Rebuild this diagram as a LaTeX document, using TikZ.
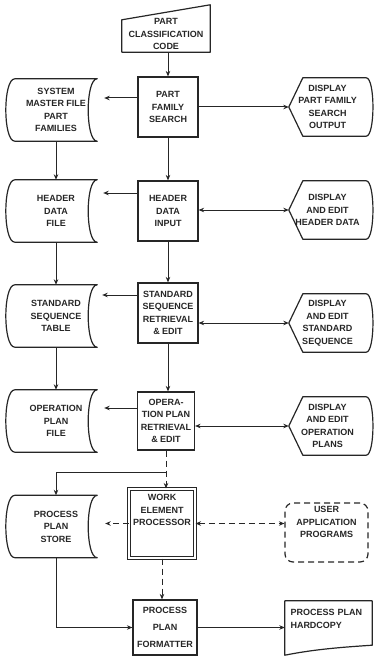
\documentclass[tikz,border=0pt]{standalone}
\usepackage{fontspec}
\setmainfont{Liberation Sans}
\usetikzlibrary{arrows.meta, calc}
\tikzset{
  txt/.style={font=\bfseries\fontsize{9}{12.5}\selectfont, align=center,
              inner sep=0pt, text=black!85},
  proc/.style={txt, draw=black!85, line width=1.2pt, minimum width=60pt,
               minimum height=60pt},
  filebox/.style={txt, minimum width=82pt, minimum height=62pt},
  dispbox/.style={txt, minimum width=77pt, minimum height=58pt},
  wepbox/.style={txt, draw=black!85, line width=1pt, double, double distance=2.5pt,
                 minimum width=66pt, minimum height=69pt},
  userbox/.style={txt, draw=black!85, line width=1.2pt, dsh, rounded corners=8pt,
                  minimum width=83pt, minimum height=59pt},
  docbox/.style={txt, align=left, text width=76pt, minimum width=87pt,
                 minimum height=54pt},
  outl/.style={draw=black!85, line width=1.2pt, line join=round},
  arc/.style={draw=black!85, line width=1pt},
  dsh/.style={dash pattern=on 6pt off 4pt}
}
\begin{document}
\begin{tikzpicture}[x=1pt, y=1pt, >={Stealth[length=5.5pt,width=4.5pt]}]
  \useasboundingbox (0,0) rectangle (374,-658);
  % input
  \node[txt, minimum width=88pt, minimum height=36pt] (code) at (166,-34)
    {PART\\CLASSIFICATION\\CODE};
  \draw[outl] (code.south west) -- (code.south east) -- ($(code.north east)+(0,11)$)
    -- ($(code.north west)+(0,-4)$) -- cycle;
  % main column
  \node[proc] (search) at (168,-107) {PART\\FAMILY\\SEARCH};
  \node[proc] (hinput) at (168,-211) {HEADER\\DATA\\INPUT};
  \node[proc] (sretr) at (168,-313) {STANDARD\\SEQUENCE\\RETRIEVAL\\\& EDIT};
  \node[proc, minimum width=57pt, minimum height=58pt] (oretr) at (166,-421)
    {OPERA-\\TION PLAN\\RETRIEVAL\\\& EDIT};
  \node[wepbox] (wep) at (162,-523.5) {WORK\\ELEMENT\\PROCESSOR\\[14pt]\mbox{}};
  \node[proc, minimum width=64pt, minimum height=55pt,
        font=\bfseries\fontsize{9}{17}\selectfont] (fmt) at (165,-627.5)
    {PROCESS\\PLAN\\FORMATTER};
  % files
  \node[filebox] (mfile) at (56,-110) {SYSTEM\\MASTER FILE\\PART\\FAMILIES};
  \node[filebox] (hfile) at (56,-211) {HEADER\\DATA\\FILE};
  \node[filebox] (sfile) at (56,-316) {STANDARD\\SEQUENCE\\TABLE};
  \node[filebox] (ofile) at (56,-421) {OPERATION\\PLAN\\FILE};
  \node[filebox] (pstore) at (56,-526.5) {PROCESS\\PLAN\\STORE};
  % displays
  \node[dispbox] (dsearch) at (327.5,-107) {DISPLAY\\PART FAMILY\\SEARCH\\OUTPUT};
  \node[dispbox] (dheader) at (327.5,-210) {DISPLAY\\AND EDIT\\HEADER DATA};
  \node[dispbox] (dstd) at (327.5,-323) {DISPLAY\\AND EDIT\\STANDARD\\SEQUENCE};
  \node[dispbox] (dop) at (327.5,-426) {DISPLAY\\AND EDIT\\OPERATION\\PLANS};
  \node[userbox] (user) at (326.5,-532.5) {USER\\APPLICATION\\PROGRAMS\\[8pt]\mbox{}};
  \node[docbox] (hcopy) at (328.5,-628) {PROCESS PLAN\\HARDCOPY\\[6pt]\mbox{}};

  \foreach \n in {mfile,hfile,sfile,ofile,pstore}
    \draw[outl] (\n.north east) -- (\n.north west)
      .. controls +(-12,0) and +(-12,0) .. (\n.south west) -- (\n.south east)
      .. controls +(-12,0) and +(-12,0) .. (\n.north east) -- cycle;
  \foreach \n in {dsearch,dheader,dstd,dop}
    \draw[outl] (\n.west) -- ($(\n.north west)+(14,0)$) -- (\n.north east)
      .. controls +(9,0) and +(9,0) .. (\n.south east)
      -- ($(\n.south west)+(14,0)$) -- cycle;
  \draw[outl] (hcopy.south west) -- (hcopy.north west) -- (hcopy.north east)
    -- ($(hcopy.south east)+(0,10)$) .. controls +(-30,-2) and +(30,6) .. (hcopy.south west)
    -- cycle;

  % connectors
  \draw[arc,->] (search.north |- code.south) -- (search.north);
  \draw[arc,->] (search.east) -- (dsearch.west);
  \draw[arc,->,shorten >=7pt] ([yshift=9pt]search.west) -- ([yshift=9pt]search.west -| mfile.east);
  \draw[arc,->,shorten >=6pt] ([yshift=18pt]hinput.west) -- ([yshift=18pt]hinput.west -| hfile.east);
  \draw[arc,->,shorten >=5pt] ([yshift=18pt]sretr.west) -- ([yshift=18pt]sretr.west -| sfile.east);
  \draw[arc,->,shorten >=7pt] ([yshift=13pt]oretr.west) -- ([yshift=13pt]oretr.west -| ofile.east);
  \draw[arc,<->] (hinput.east |- dheader.west) -- (dheader.west);
  \draw[arc,<->] (sretr.east |- dstd.west) -- (dstd.west);
  \draw[arc,<->] (oretr.east |- dop.west) -- (dop.west);
  \draw[arc,->] (mfile.south) -- (hfile.north);
  \draw[arc,->] (hfile.south) -- (sfile.north);
  \draw[arc,->] (sfile.south) -- (ofile.north);
  \draw[arc,->] (search.south) -- (hinput.north);
  \draw[arc,->] (hinput.south) -- (sretr.north);
  \draw[arc,->] (sretr.south) -- (sretr.south |- oretr.north);
  \coordinate (jn) at ($(oretr.south)+(0,-22)$);
  \draw[arc,dsh,->] (oretr.south) -- (oretr.south |- wep.north);
  \draw[arc,->] (jn) -| (pstore.north);
  \draw[arc,dsh,->,shorten >=8pt] (wep.west) -- (wep.west -| pstore.east);
  \draw[arc,dsh,<->] (wep.east) -- (wep.east -| user.west);
  \draw[arc,dsh,->] (wep.south) -- (wep.south |- fmt.north);
  \draw[arc,->] (pstore.south) |- (fmt.west);
  \draw[arc,->] (fmt.east) -- (fmt.east -| hcopy.west);
\end{tikzpicture}
\end{document}
